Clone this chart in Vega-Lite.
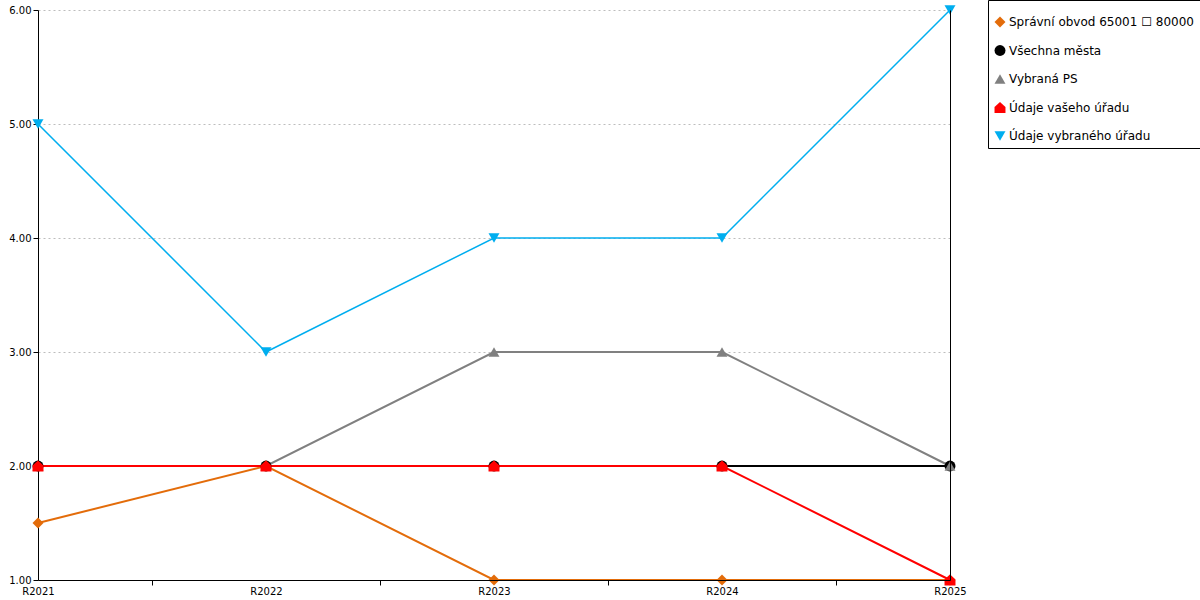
{
  "$schema": "https://vega.github.io/schema/vega-lite/v6.json",
  "width": 912,
  "height": 570,
  "autosize": "none",
  "padding": {"left": 38, "top": 10, "right": 250, "bottom": 20},
  "background": "white",
  "config": {
    "view": {"stroke": null},
    "font": "DejaVu Sans",
    "axis": {
      "labelFont": "DejaVu Sans",
      "labelFontSize": 10,
      "labelColor": "black",
      "domainColor": "black",
      "tickColor": "black",
      "title": null
    },
    "legend": {
      "orient": "none",
      "legendX": 950,
      "legendY": -10,
      "padding": 6,
      "strokeColor": "black",
      "fillColor": "white",
      "cornerRadius": 0,
      "labelFont": "DejaVu Sans",
      "labelFontSize": 12,
      "labelColor": "black",
      "labelLimit": 300,
      "labelOffset": 3,
      "symbolSize": 120,
      "symbolStrokeWidth": 0,
      "symbolOpacity": 1,
      "rowPadding": 16.5,
      "titleFontSize": 1,
      "titlePadding": 9
    }
  },
  "data": {
    "values": [
      {"rada": "Všechna města", "rok": 2021, "hodnota": 2},
      {"rada": "Všechna města", "rok": 2022, "hodnota": 2},
      {"rada": "Všechna města", "rok": 2023, "hodnota": 2},
      {"rada": "Všechna města", "rok": 2024, "hodnota": 2},
      {"rada": "Všechna města", "rok": 2025, "hodnota": 2},
      {"rada": "Vybraná PS", "rok": 2021, "hodnota": 2},
      {"rada": "Vybraná PS", "rok": 2022, "hodnota": 2},
      {"rada": "Vybraná PS", "rok": 2023, "hodnota": 3},
      {"rada": "Vybraná PS", "rok": 2024, "hodnota": 3},
      {"rada": "Vybraná PS", "rok": 2025, "hodnota": 2},
      {"rada": "Správní obvod 65001 ☐ 80000", "rok": 2021, "hodnota": 1.5},
      {"rada": "Správní obvod 65001 ☐ 80000", "rok": 2022, "hodnota": 2},
      {"rada": "Správní obvod 65001 ☐ 80000", "rok": 2023, "hodnota": 1},
      {"rada": "Správní obvod 65001 ☐ 80000", "rok": 2024, "hodnota": 1},
      {"rada": "Správní obvod 65001 ☐ 80000", "rok": 2025, "hodnota": 1},
      {"rada": "Údaje vašeho úřadu", "rok": 2021, "hodnota": 2},
      {"rada": "Údaje vašeho úřadu", "rok": 2022, "hodnota": 2},
      {"rada": "Údaje vašeho úřadu", "rok": 2023, "hodnota": 2},
      {"rada": "Údaje vašeho úřadu", "rok": 2024, "hodnota": 2},
      {"rada": "Údaje vašeho úřadu", "rok": 2025, "hodnota": 1},
      {"rada": "Údaje vybraného úřadu", "rok": 2021, "hodnota": 5},
      {"rada": "Údaje vybraného úřadu", "rok": 2022, "hodnota": 3},
      {"rada": "Údaje vybraného úřadu", "rok": 2023, "hodnota": 4},
      {"rada": "Údaje vybraného úřadu", "rok": 2024, "hodnota": 4},
      {"rada": "Údaje vybraného úřadu", "rok": 2025, "hodnota": 6}
    ]
  },
  "encoding": {
    "x": {
      "field": "rok",
      "type": "quantitative",
      "scale": {"domain": [2021, 2025], "nice": false, "zero": false},
      "axis": {
        "orient": "bottom",
        "values": [2021, 2021.5, 2022, 2022.5, 2023, 2023.5, 2024, 2024.5, 2025],
        "labelExpr": "datum.value % 1 == 0 ? 'R' + datum.value : ''",
        "labelFlush": false,
        "labelOverlap": false,
        "tickColor": {"condition": {"test": "datum.value % 1 == 0", "value": "transparent"}, "value": "black"},
        "tickSize": 5,
        "labelPadding": 1,
        "grid": false,
        "zindex": 1
      }
    },
    "y": {
      "field": "hodnota",
      "type": "quantitative",
      "scale": {"domain": [1, 6], "nice": false, "zero": false}
    },
    "color": {
      "field": "rada",
      "type": "nominal",
      "title": " ",
      "scale": {
        "domain": ["Správní obvod 65001 ☐ 80000", "Všechna města", "Vybraná PS", "Údaje vašeho úřadu", "Údaje vybraného úřadu"],
        "range": ["#e36c0a", "#000000", "#808080", "#ff0000", "#00aeef"]
      }
    }
  },
  "layer": [
    {
      "transform": [{"filter": "datum.rada != 'Údaje vybraného úřadu'"}],
      "mark": {"type": "line", "strokeWidth": 2},
      "encoding": {
        "y": {
          "field": "hodnota",
          "type": "quantitative",
          "axis": {
            "orient": "left",
            "values": [1, 2, 3, 4, 5, 6],
            "format": ".2f",
            "tickSize": 5,
            "labelPadding": 2,
            "grid": true,
            "gridColor": "#bdbdbd",
            "gridDash": [2, 3],
            "gridWidth": 1
          }
        }
      }
    },
    {
      "transform": [{"filter": "datum.rada == 'Údaje vybraného úřadu'"}],
      "mark": {"type": "line", "strokeWidth": 1.5},
      "encoding": {
        "y": {"field": "hodnota", "type": "quantitative", "axis": null}
      }
    },
    {
      "mark": {"type": "point", "filled": true, "opacity": 1, "size": 120},
      "encoding": {
        "y": {
          "field": "hodnota",
          "type": "quantitative",
          "axis": {
            "orient": "right",
            "labels": false,
            "ticks": false,
            "grid": false,
            "zindex": 1
          }
        },
        "shape": {
          "field": "rada",
          "type": "nominal",
          "title": " ",
          "scale": {
            "domain": ["Správní obvod 65001 ☐ 80000", "Všechna města", "Vybraná PS", "Údaje vašeho úřadu", "Údaje vybraného úřadu"],
            "range": ["diamond", "circle", "triangle-up", "M-1,1L1,1L1,-0.1L0,-1L-1,-0.1Z", "triangle-down"]
          }
        }
      }
    }
  ],
  "resolve": {"axis": {"y": "independent"}}
}
